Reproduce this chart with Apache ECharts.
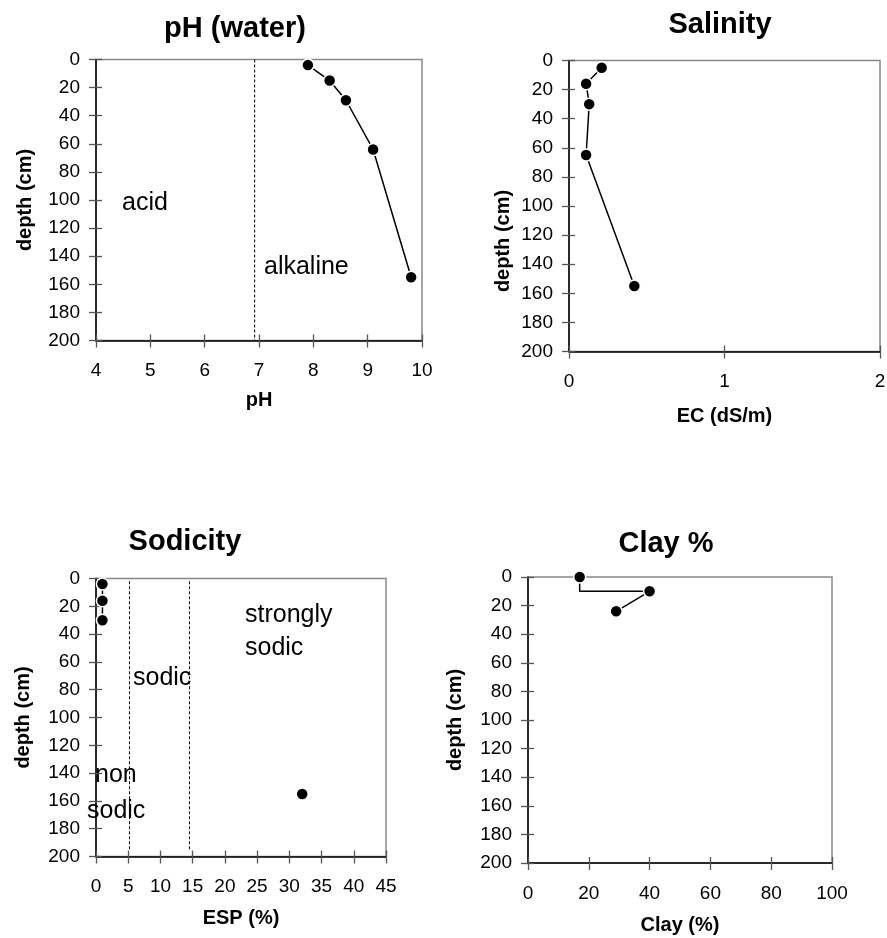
<!DOCTYPE html>
<html>
<head>
<meta charset="utf-8">
<style>
  html, body { margin: 0; padding: 0; background: #fff; }
  #chart { width: 887px; height: 938px; }
</style>
<script src="https://cdn.jsdelivr.net/npm/echarts@6/dist/echarts.min.js"></script>
</head>
<body>
<div id="chart"></div>
<script>
// sample depths (cm) and values
const phDepth = [4, 15, 29, 64, 155]
const phValue = [7.9, 8.3, 8.6, 9.1, 9.8]
const ecDepth = [5, 16, 30, 65, 155]
const ecValue = [0.21, 0.11, 0.13, 0.11, 0.42]
const espDepth = [4, 16, 30, 65, 155]
const espValue = [1, 1, 1, null, 32]
const clayDepth = [0, 10, 24]
const clayValue = [17, 40, 29]

// class boundaries drawn as dashed lines
const phNeutral = 6.92
const espSodic = [5.2, 14.5]
const espSodicDepth = [2, 195]

// [min, max, interval]
const depthRange = [0, 200, 20]
const phRange = [4, 10, 1]
const ecRange = [0, 2, 1]
const espRange = [0, 45, 5]
const clayRange = [0, 100, 20]

const FONT = 'Liberation Sans, Arial, sans-serif'

const chart = echarts.init(document.getElementById('chart'))

const grids = [
  { left: 96, top: 59.5, width: 326, height: 281 },
  { left: 569, top: 60.5, width: 311, height: 291 },
  { left: 96, top: 578.5, width: 290, height: 278 },
  { left: 528, top: 577, width: 304, height: 286 }
]

const panels = [
  { range: phRange, name: 'pH', nameGap: 50, yNameGap: 61, yPad: [0, 0, 0, 0] },
  { range: ecRange, name: 'EC (dS/m)', nameGap: 55, yNameGap: 56, yPad: [0, 70, 0, 0] },
  { range: espRange, name: 'ESP (%)', nameGap: 52, yNameGap: 63, yPad: [0, 0, 0, 0] },
  { range: clayRange, name: 'Clay (%)', nameGap: 52, yNameGap: 63, yPad: [0, 0, 0, 0] }
]

const xAxis = []
const yAxis = []

function axisPair(list, gi, range, extra, inverse) {
  // main axis: line, labels, outward ticks
  list.push(Object.assign({
    type: 'value',
    gridIndex: gi,
    min: range[0],
    max: range[1],
    interval: range[2],
    inverse: inverse,
    axisLine: { show: true, onZero: false, lineStyle: { color: '#000', width: 1.5 } },
    axisTick: { show: true, length: 7, lineStyle: { color: '#555', width: 1.3 } },
    axisLabel: { fontSize: 19, color: '#000', fontFamily: FONT },
    splitLine: { show: false }
  }, extra))
  // overlay axis on the same side: inward ticks only, so the ticks cross the axis
  list.push({
    type: 'value',
    gridIndex: gi,
    position: extra.position,
    min: range[0],
    max: range[1],
    interval: range[2],
    inverse: inverse,
    axisLine: { show: false, onZero: false },
    axisTick: { show: true, inside: true, length: 6, lineStyle: { color: '#555', width: 1.3 } },
    axisLabel: { show: false },
    splitLine: { show: false }
  })
}

panels.forEach((p, gi) => {
  axisPair(xAxis, gi, p.range, {
    position: 'bottom',
    name: p.name,
    nameLocation: 'middle',
    nameGap: p.nameGap,
    nameTextStyle: { fontSize: 20, fontWeight: 'bold', color: '#000', fontFamily: FONT },
    axisLabel: { fontSize: 19, color: '#000', fontFamily: FONT, margin: 21 }
  }, false)
  axisPair(yAxis, gi, depthRange, {
    position: 'left',
    name: 'depth (cm)',
    nameLocation: 'middle',
    nameGap: p.yNameGap,
    nameRotate: 90,
    nameTextStyle: { fontSize: 20, fontWeight: 'bold', color: '#000', fontFamily: FONT, padding: p.yPad },
    axisLabel: { fontSize: 19, color: '#000', fontFamily: FONT, margin: 16 }
  }, true)
})

const dot = {
  symbol: 'circle',
  symbolSize: 12,
  itemStyle: { color: '#000', borderColor: '#fff', borderWidth: 1.5, opacity: 1 },
  lineStyle: { color: '#000', width: 1.5 }
}
const dashed = {
  type: 'line',
  showSymbol: false,
  silent: true,
  clip: false,
  lineStyle: { color: '#000', width: 1, type: [3, 2] }
}

function pairs(xs, ys) {
  return xs.map((v, i) => [v == null ? '-' : v, ys[i]])
}
function onAxes(gi) {
  return { xAxisIndex: gi * 2, yAxisIndex: gi * 2 }
}

const clayPts = pairs(clayValue, clayDepth)

const series = [
  Object.assign({}, dashed, onAxes(0), { data: [[phNeutral, depthRange[0]], [phNeutral, depthRange[1]]] }),
  Object.assign({ type: 'line', z: 3 }, dot, onAxes(0), { data: pairs(phValue, phDepth) }),
  Object.assign({ type: 'line', z: 3 }, dot, onAxes(1), { data: pairs(ecValue, ecDepth) }),
  Object.assign({}, dashed, onAxes(2), { data: [[espSodic[0], espSodicDepth[0]], [espSodic[0], espSodicDepth[1]]] }),
  Object.assign({}, dashed, onAxes(2), { data: [[espSodic[1], espSodicDepth[0]], [espSodic[1], espSodicDepth[1]]] }),
  Object.assign({ type: 'line', z: 3 }, dot, onAxes(2), { data: pairs(espValue, espDepth) }),
  // clay: first step drawn as a stair, then a straight segment
  Object.assign({ type: 'line', showSymbol: false, step: 'start', lineStyle: { color: '#000', width: 1.5 } }, onAxes(3), { data: clayPts.slice(0, 2) }),
  Object.assign({ type: 'line', showSymbol: false, lineStyle: { color: '#000', width: 1.5 } }, onAxes(3), { data: clayPts.slice(1) }),
  Object.assign({ type: 'scatter', z: 4 }, dot, onAxes(3), { data: clayPts })
]

function label(text, x, y, size, bold, align) {
  return {
    type: 'text',
    x: x,
    y: y,
    silent: true,
    style: {
      text: text,
      font: (bold ? 'bold ' : '') + size + 'px ' + FONT,
      fill: '#000',
      align: align || 'left',
      textAlign: align || 'left',
      verticalAlign: 'middle',
      textVerticalAlign: 'middle'
    }
  }
}

const graphic = [
  label('pH (water)', 235, 28.5, 29, true, 'center'),
  label('Salinity', 720, 25, 29, true, 'center'),
  label('Sodicity', 185, 542, 29, true, 'center'),
  label('Clay %', 666, 544, 29, true, 'center'),
  label('acid', 122, 203, 25),
  label('alkaline', 264, 267, 25),
  label('strongly', 245, 615, 25),
  label('sodic', 245, 648.5, 25),
  label('sodic', 133, 678, 25),
  label('non', 95, 775, 25),
  label('sodic', 87, 811, 25)
]

chart.setOption({
  animation: false,
  backgroundColor: '#fff',
  textStyle: { fontFamily: FONT },
  grid: grids.map(g => Object.assign({
    show: true,
    borderColor: '#888',
    borderWidth: 1.5,
    backgroundColor: 'transparent',
    containLabel: false,
    outerBoundsMode: 'none'
  }, g)),
  xAxis: xAxis,
  yAxis: yAxis,
  series: series,
  graphic: graphic
})
</script>
</body>
</html>
